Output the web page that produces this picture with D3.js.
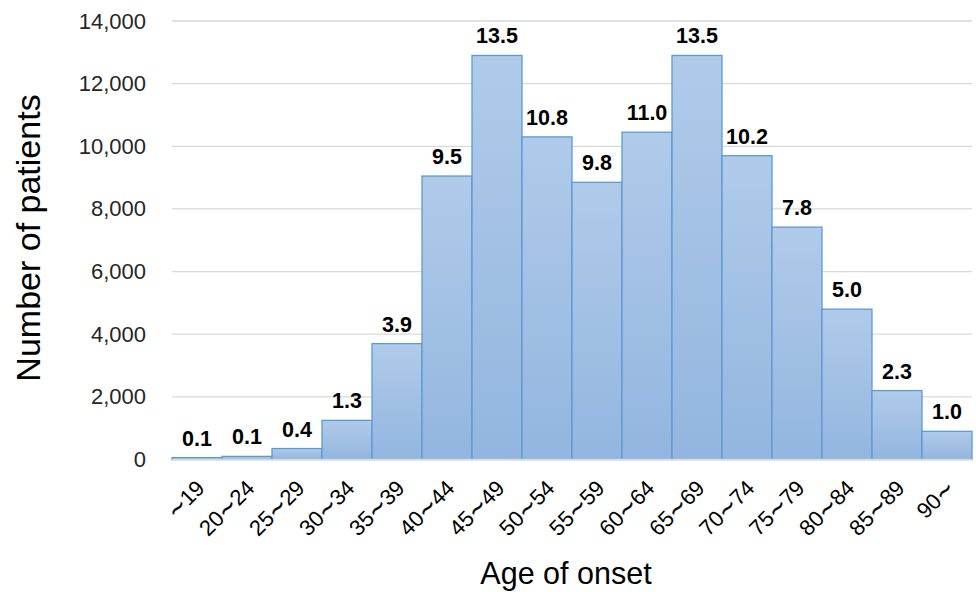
<!DOCTYPE html>
<html>
<head>
<meta charset="utf-8">
<script src="https://cdn.jsdelivr.net/npm/d3@7"></script>
<style>
  html, body { margin: 0; padding: 0; background: #fff; }
  svg { display: block; font-family: "Liberation Sans", Arial, sans-serif; }
</style>
</head>
<body>
<svg id="chart" width="976" height="592"></svg>
<script>
// Age groups at onset
const ageGroups = ["~19", "20~24", "25~29", "30~34", "35~39", "40~44", "45~49", "50~54",
                   "55~59", "60~64", "65~69", "70~74", "75~79", "80~84", "85~89", "90~"];
// Number of patients in each age group
const patientCounts = [60, 100, 350, 1250, 3700, 9050, 12900, 10300,
                       8850, 10450, 12900, 9700, 7420, 4800, 2200, 900];
// Share of all patients (%) shown above each bar
const sharePercent = ["0.1", "0.1", "0.4", "1.3", "3.9", "9.5", "13.5", "10.8",
                      "9.8", "11.0", "13.5", "10.2", "7.8", "5.0", "2.3", "1.0"];
// Y axis ticks
const yTicks = [0, 2000, 4000, 6000, 8000, 10000, 12000, 14000];

const svg = d3.select("#chart");
const margin = { left: 172, right: 4, top: 21, bottom: 132.5 };
const W = 976, H = 592;
const innerW = W - margin.left - margin.right;
const innerH = H - margin.top - margin.bottom;

const x = d3.scaleBand().domain(ageGroups).range([margin.left, margin.left + innerW]).padding(0);
const y = d3.scaleLinear().domain([0, 14000]).range([margin.top + innerH, margin.top]);

// Bar fill gradient
const defs = svg.append("defs");
const grad = defs.append("linearGradient")
  .attr("id", "barFill").attr("x1", 0).attr("y1", 0).attr("x2", 0).attr("y2", 1);
grad.append("stop").attr("offset", "0%").attr("stop-color", "#b0cbea");
grad.append("stop").attr("offset", "100%").attr("stop-color", "#93b5df");

// Horizontal gridlines
svg.append("g")
  .selectAll("line")
  .data(yTicks)
  .join("line")
  .attr("x1", margin.left).attr("x2", margin.left + innerW)
  .attr("y1", d => y(d)).attr("y2", d => y(d))
  .attr("stroke", "#d9d9d9").attr("stroke-width", 1.3);

// Y axis tick labels
const yAxis = d3.axisLeft(y).tickValues(yTicks).tickFormat(d3.format(",")).tickSize(0).tickPadding(26);
const gy = svg.append("g").attr("transform", `translate(${margin.left},0)`).call(yAxis);
gy.select(".domain").remove();
gy.selectAll("text")
  .attr("font-size", 22).attr("fill", "#262626")
  .attr("font-family", "Liberation Sans, Arial, sans-serif");

// Bars
const data = ageGroups.map((g, i) => ({ g, v: patientCounts[i], p: sharePercent[i] }));
svg.append("g")
  .selectAll("rect")
  .data(data)
  .join("rect")
  .attr("x", d => x(d.g))
  .attr("y", d => y(d.v))
  .attr("width", x.bandwidth())
  .attr("height", d => y(0) - y(d.v))
  .attr("fill", "url(#barFill)")
  .attr("stroke", "#5b9bd5")
  .attr("stroke-width", 1.3);

// Baseline
svg.append("line")
  .attr("x1", margin.left).attr("x2", margin.left + innerW)
  .attr("y1", y(0)).attr("y2", y(0))
  .attr("stroke", "#d9d9d9").attr("stroke-width", 1.3);

// Percentage labels above bars
svg.append("g")
  .selectAll("text")
  .data(data)
  .join("text")
  .attr("x", d => x(d.g) + x.bandwidth() / 2)
  .attr("y", d => y(d.v) - 12)
  .attr("text-anchor", "middle")
  .attr("font-size", 21.5)
  .attr("font-weight", "bold")
  .attr("fill", "#000")
  .text(d => d.p);

// X axis tick labels (rotated); the tilde gets a wider wave glyph
const xAxis = d3.axisBottom(x).tickSize(0).tickPadding(0);
const gx = svg.append("g").attr("transform", `translate(0,${y(0)})`).call(xAxis);
gx.select(".domain").remove();
gx.selectAll("text")
  .attr("font-size", 22)
  .attr("fill", "#000")
  .attr("font-family", "Liberation Sans, Arial, sans-serif")
  .attr("text-anchor", "end")
  .attr("dy", null)
  .attr("y", 0)
  .attr("transform", "translate(9,30) rotate(-45)")
  .each(function (d) {
    const t = d3.select(this);
    t.text(null);
    d.split(/(~)/).filter(s => s.length).forEach(part => {
      const ts = t.append("tspan").text(part);
      if (part === "~") {
        ts.attr("font-family", "DejaVu Sans").attr("font-size", 22)
          .attr("stroke", "#000").attr("stroke-width", 0.4);
      }
    });
  });

// Axis titles
svg.append("text")
  .attr("x", 566)
  .attr("y", 584)
  .attr("text-anchor", "middle")
  .attr("font-size", 30.5)
  .attr("fill", "#000")
  .text("Age of onset");

svg.append("text")
  .attr("transform", "translate(40,238) rotate(-90)")
  .attr("text-anchor", "middle")
  .attr("font-size", 34)
  .attr("fill", "#000")
  .text("Number of patients");
</script>
</body>
</html>
